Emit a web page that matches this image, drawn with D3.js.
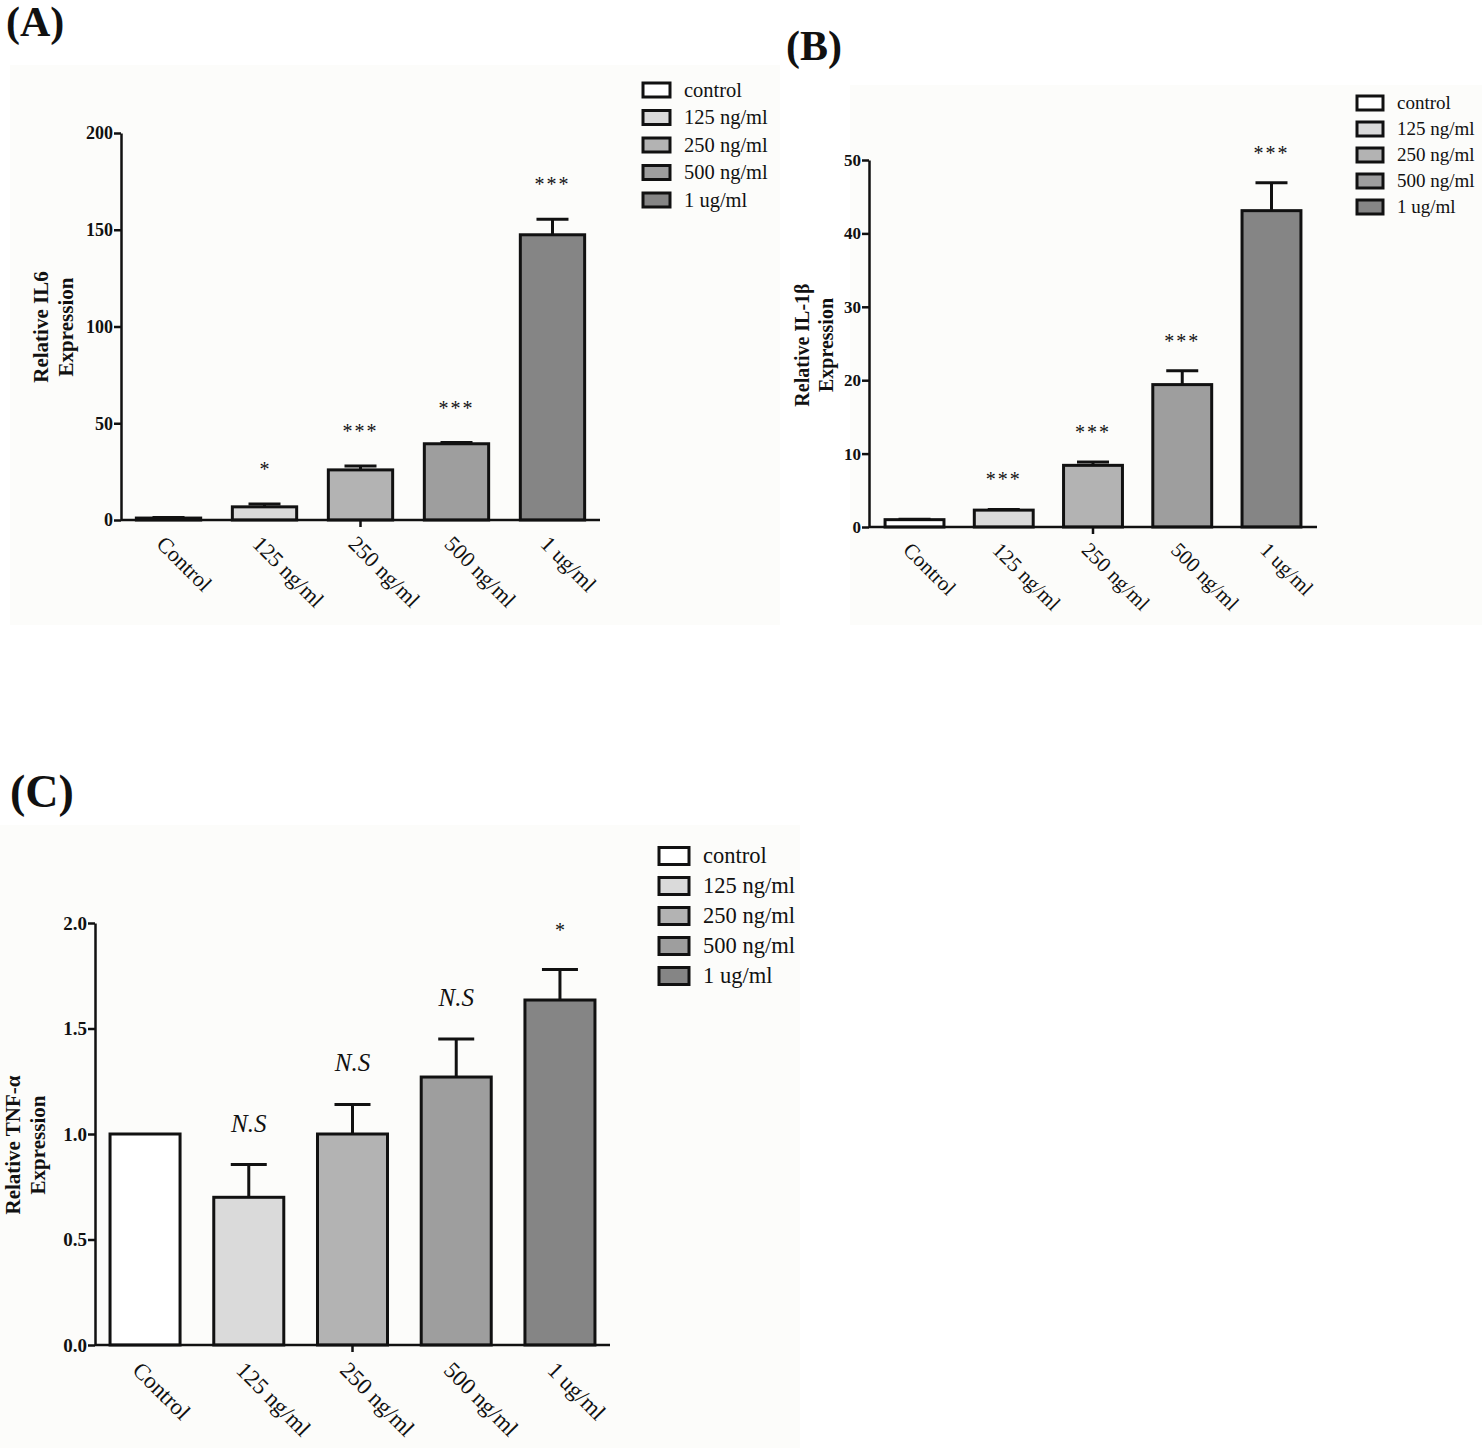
<!DOCTYPE html>
<html>
<head>
<meta charset="utf-8">
<script src="https://cdn.jsdelivr.net/npm/d3@7"></script>
<style>
  body { margin: 0; background: #fff; }
  svg text { font-family: "Liberation Serif", "Times New Roman", serif; fill: #111; }
</style>
</head>
<body>
<div id="fig"></div>
<script>
// shared categories
var categories = ["Control", "125 ng/ml", "250 ng/ml", "500 ng/ml", "1 ug/ml"];
var legendLabels = ["control", "125 ng/ml", "250 ng/ml", "500 ng/ml", "1 ug/ml"];
var barFills = ["#ffffff", "#dadada", "#b3b3b3", "#9e9e9e", "#858585"];

// (A) IL6
var il6Mean = [1.0, 6.8, 25.9, 39.4, 147.4];
var il6Err = [0.3, 1.5, 2.0, 0.6, 8.0];
var il6Marks = ["", "*", "***", "***", "***"];
var il6Ticks = [0, 50, 100, 150, 200];

// (B) IL-1beta
var il1bMean = [1.0, 2.3, 8.4, 19.4, 43.1];
var il1bErr = [0.05, 0.1, 0.45, 1.9, 3.8];
var il1bMarks = ["", "***", "***", "***", "***"];
var il1bTicks = [0, 10, 20, 30, 40, 50];

// (C) TNF-alpha
var tnfMean = [1.0, 0.70, 1.0, 1.27, 1.635];
var tnfErr = [0, 0.155, 0.14, 0.18, 0.145];
var tnfMarks = ["", "N.S", "N.S", "N.S", "*"];
var tnfTicks = [0, 0.5, 1.0, 1.5, 2.0];

var svg = d3.select('#fig').append('svg')
			.attr('width', 1482)
			.attr('height', 1448);

var color = d3.scaleOrdinal().domain(legendLabels).range(barFills);

function drawPanel(p) {
	var g = svg.append('g').attr('class', 'panel');

	// faint panel background
	g.append('rect')
		.attr('x', p.bg[0]).attr('y', p.bg[1])
		.attr('width', p.bg[2]).attr('height', p.bg[3])
		.attr('fill', '#fcfcfa');

	g.append('text')
		.attr('x', p.label[0]).attr('y', p.label[1])
		.attr('font-size', p.label[2]).attr('font-weight', 'bold')
		.text(p.name);

	var x = d3.scaleBand()
				.domain(categories)
				.range([p.x0, p.x1])
				.paddingInner(p.padIn)
				.paddingOuter(p.padOut);
	var y = d3.scaleLinear()
				.domain([0, p.yMax])
				.range([p.yBottom, p.yTop]);

	// bars
	g.append('g').selectAll('rect')
		.data(p.mean)
		.enter()
		.append('rect')
			.attr('x', (d,i)=>x(categories[i]))
			.attr('y', d=>y(d))
			.attr('width', x.bandwidth())
			.attr('height', d=>y(0)-y(d))
			.attr('fill', (d,i)=>color(legendLabels[i]))
			.attr('stroke', '#111')
			.attr('stroke-width', 3);

	// error bars (upper only)
	var eb = g.append('g').attr('stroke', '#111').attr('stroke-width', 3);
	p.mean.forEach(function(m, i) {
		if (!p.err[i]) return;
		var cx = x(categories[i]) + x.bandwidth()/2;
		eb.append('line').attr('x1', cx).attr('x2', cx).attr('y1', y(m)).attr('y2', y(m+p.err[i]));
		eb.append('line').attr('x1', cx-p.cap).attr('x2', cx+p.cap).attr('y1', y(m+p.err[i])).attr('y2', y(m+p.err[i]));
	});

	// significance marks
	g.append('g').selectAll('text')
		.data(p.marks)
		.enter()
		.append('text')
			.attr('x', (d,i)=>x(categories[i]) + x.bandwidth()/2)
			.attr('y', (d,i)=>y(p.mean[i]+p.err[i]) - p.markGap + (d=="N.S" ? 9 : 10))
			.attr('text-anchor', 'middle')
			.attr('font-size', d=>d=="N.S" ? 25 : 20)
			.attr('font-style', d=>d=="N.S" ? 'italic' : 'normal')
			.attr('fill', '#333')
			.attr('letter-spacing', d=>d=="***" ? 2 : 0)
			.text(d=>d);

	// axes
	var y_axis = d3.axisLeft(y).tickValues(p.ticks).tickSize(7).tickSizeOuter(0)
					.tickFormat(p.fmt);
	g.append('g')
		.attr('class', 'axis y')
		.attr('transform', 'translate('+p.x0+',0)')
		.call(y_axis)
		.call(a => a.select('.domain').attr('stroke', '#111').attr('stroke-width', 2.5))
		.call(a => a.selectAll('.tick line').attr('stroke', '#111').attr('stroke-width', 2.5))
		.call(a => a.selectAll('.tick text')
			.attr('font-family', '"Liberation Serif", serif')
			.attr('font-size', p.tickSize).attr('font-weight', 'bold').attr('fill', '#111')
			.attr('dx', 2));

	g.append('line')
		.attr('x1', p.x0).attr('x2', p.x1)
		.attr('y1', y(0)).attr('y2', y(0))
		.attr('stroke', '#111').attr('stroke-width', 2.5);
	g.append('line')
		.attr('x1', (p.x0+p.x1)/2).attr('x2', (p.x0+p.x1)/2)
		.attr('y1', y(0)).attr('y2', y(0)+7)
		.attr('stroke', '#111').attr('stroke-width', 2.5);

	// rotated category labels
	g.append('g').selectAll('text')
		.data(categories)
		.enter()
		.append('text')
			.attr('transform', d=>'translate('+(x(d)+x.bandwidth()/2 - p.catSize*0.6)+','+(y(0)+p.catSize*1.15)+') rotate(45)')
			.attr('font-size', p.catSize)
			.attr('fill', '#222')
			.text(d=>d);

	// y label, two lines
	var yl = g.append('text')
		.attr('transform', 'translate('+p.yLab[0]+','+p.yLab[1]+') rotate(-90)')
		.attr('text-anchor', 'middle')
		.attr('font-size', p.yLabSize)
		.attr('font-weight', 'bold');
	yl.append('tspan').attr('x', 0).attr('dy', 0).text(p.yTitle[0]);
	yl.append('tspan').attr('x', 0).attr('dy', p.yLabSize*1.2).text(p.yTitle[1]);

	// legend
	var lg = g.append('g').attr('transform', 'translate('+p.leg[0]+','+p.leg[1]+')');
	var rows = lg.selectAll('g')
		.data(legendLabels)
		.enter()
		.append('g')
			.attr('transform', (d,i)=>'translate(0,'+(i*p.leg[2])+')');
	rows.append('rect')
		.attr('x', 0).attr('y', -p.leg[4]/2)
		.attr('width', p.leg[3]).attr('height', p.leg[4])
		.attr('fill', d=>color(d))
		.attr('stroke', '#111').attr('stroke-width', 3);
	rows.append('text')
		.attr('x', p.leg[3] + 14).attr('y', p.leg[5]*0.33)
		.attr('font-size', p.leg[5])
		.attr('fill', '#222')
		.text(d=>d);
}

drawPanel({
	name: '(A)', label: [6, 36, 42], bg: [10, 65, 770, 560],
	mean: il6Mean, err: il6Err, marks: il6Marks, ticks: il6Ticks, yMax: 200, fmt: d3.format('d'),
	x0: 121, x1: 600, yTop: 133, yBottom: 520, padIn: 0.33, padOut: 0.16, cap: 16, markGap: 38,
	tickSize: 18, catSize: 22, yLab: [48, 327], yLabSize: 21, yTitle: ['Relative IL6', 'Expression'],
	leg: [643, 90, 27.5, 27, 14, 20.5]
});

drawPanel({
	name: '(B)', label: [786, 60, 42], bg: [850, 85, 632, 540],
	mean: il1bMean, err: il1bErr, marks: il1bMarks, ticks: il1bTicks, yMax: 50, fmt: d3.format('d'),
	x0: 869, x1: 1317, yTop: 160, yBottom: 527, padIn: 0.34, padOut: 0.18, cap: 16, markGap: 33,
	tickSize: 17, catSize: 21, yLab: [809, 345], yLabSize: 20, yTitle: ['Relative IL-1\u03b2', 'Expression'],
	leg: [1357, 103, 26, 26, 14, 19]
});

drawPanel({
	name: '(C)', label: [10, 807, 46], bg: [0, 825, 800, 623],
	mean: tnfMean, err: tnfErr, marks: tnfMarks, ticks: tnfTicks, yMax: 2.0, fmt: d3.format('.1f'),
	x0: 95, x1: 610, yTop: 923, yBottom: 1345, padIn: 0.325, padOut: 0.145, cap: 18, markGap: 42,
	tickSize: 19, catSize: 23, yLab: [20, 1145], yLabSize: 21, yTitle: ['Relative TNF-\u03b1', 'Expression'],
	leg: [659, 856, 30, 30, 17, 22.5]
});
</script>
</body>
</html>
